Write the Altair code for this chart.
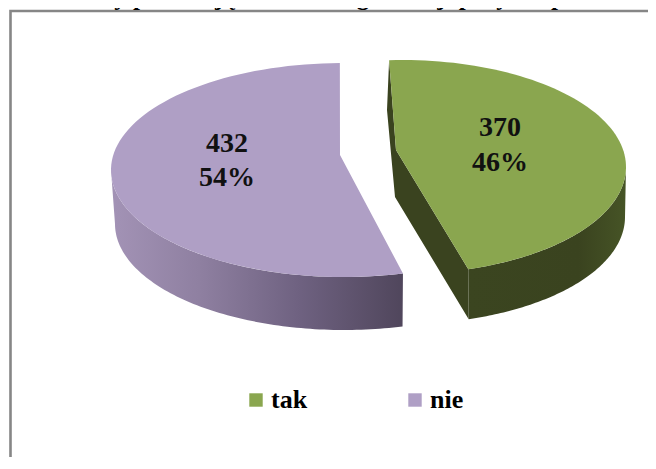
import math
import altair as alt
import pandas as pd

categories = ["tak", "nie"]
values = [370, 432]
percent_labels = ["46%", "54%"]
colors = ["#8AA64F", "#AF9FC5"]
title_text = "1. Podmioty posiadające status organizacji pożytku publicznego"
frame_color = "#868686"
FONT = "Liberation Serif"
W, H = 640, 449

total = sum(values)
span = {c: v / total * 360 for c, v in zip(categories, values)}

# pie geometry (page pixels): exploded slices, tilted ellipses, depth below
geo = {
    "tak": dict(start=-3.3, apex=(396, 150), apex2=(395, 197),
                top=(402, 167, 224, 107), low=(403, 217, 222, 107)),
    "nie": dict(start=359.1 - span["nie"], apex=(340, 155), apex2=None,
                top=(343.5, 170, 232.5, 107), low=(344, 224, 229, 106)),
}


def pt(e, deg):
    a = math.radians(deg)
    return (e[0] + e[2] * math.sin(a), e[1] - e[3] * math.cos(a))


def arc(e, a0, a1, n=90):
    return [pt(e, a0 + (a1 - a0) * i / n) for i in range(n + 1)]


def frame(pts, name):
    return pd.DataFrame(
        [{"x": p[0] - 8, "y": p[1] - 8, "i": i, "s": name} for i, p in enumerate(pts)]
    )


xs = alt.Scale(domain=[0, W], range=[0, W])
ys = alt.Scale(domain=[0, H], range=[0, H])


def poly(pts, name, fill):
    return (
        alt.Chart(frame(pts, name))
        .mark_line(fill=fill, strokeWidth=0, interpolate="linear-closed", clip=False)
        .encode(
            x=alt.X("x:Q", scale=xs, axis=None),
            y=alt.Y("y:Q", scale=ys, axis=None),
            order="i:Q",
        )
    )


def grad(stops):
    return alt.Gradient(
        gradient="linear", x1=0, x2=1, y1=0, y2=0,
        stops=[alt.GradientStop(offset=o, color=c) for o, c in stops],
    )


layers = []

# purple slice
g = geo["nie"]
s0, s1 = g["start"], g["start"] + span["nie"]
wall = arc(g["top"], s0, 270) + arc(g["low"], 270, s0)
layers.append(poly(wall, "nie-wall", grad([(0, "#A393B6"), (0.3, "#8F80A1"), (0.65, "#6E6180"), (1, "#50465C")])))
layers.append(poly([g["apex"]] + arc(g["top"], s0, s1), "nie-top", colors[1]))

# green slice
g = geo["tak"]
s0, s1 = g["start"], g["start"] + span["tak"]
inner = [pt(g["top"], s0), (387, 110), g["apex2"], pt(g["low"], s1), pt(g["top"], s1), g["apex"]]
layers.append(poly(inner, "tak-inner", "#3A431F"))
wall = arc(g["top"], 90, s1) + arc(g["low"], s1, 90)
layers.append(poly(wall, "tak-wall", grad([(0, "#3B4520"), (0.7, "#3A431F"), (1, "#465426")])))
layers.append(poly([g["apex"]] + arc(g["top"], s0, s1), "tak-top", colors[0]))

# frame
fr = pd.DataFrame({"x": [2.5, 2.5, W], "y": [H, 3, 3], "i": [0, 1, 2]})
layers.append(
    alt.Chart(fr).mark_line(color=frame_color, strokeWidth=2.6, strokeJoin="miter").encode(
        x=alt.X("x:Q", scale=xs, axis=None),
        y=alt.Y("y:Q", scale=ys, axis=None),
        order="i:Q",
    )
)

# title (cropped at the top in the reference)
layers.append(
    alt.Chart(pd.DataFrame({"t": [title_text], "x": [-9.0], "y": [-3.0]}))
    .mark_text(font=FONT, fontSize=25, fontWeight="bold", align="left", baseline="alphabetic", color="black", clip=False)
    .encode(x=alt.X("x:Q", scale=xs, axis=None), y=alt.Y("y:Q", scale=ys, axis=None), text="t:N")
)

# data labels
lab = pd.DataFrame({
    "t": [str(values[0]), percent_labels[0], str(values[1]), percent_labels[1]],
    "x": [500 - 8, 500 - 8, 227 - 8, 227 - 8],
    "y": [128 - 8, 163 - 8, 144 - 8, 178 - 8],
})
layers.append(
    alt.Chart(lab)
    .mark_text(font=FONT, fontSize=28, fontWeight="bold", color="#111111", align="center", baseline="middle")
    .encode(x=alt.X("x:Q", scale=xs, axis=None), y=alt.Y("y:Q", scale=ys, axis=None), text="t:N")
)

# legend
leg = pd.DataFrame({"c": categories})
layers.append(
    alt.Chart(leg)
    .mark_square(opacity=0)
    .encode(
        x=alt.value(-50),
        y=alt.value(-50),
        color=alt.Color(
            "c:N",
            scale=alt.Scale(domain=categories, range=colors),
            legend=alt.Legend(
                title=None, orient="none", legendX=235, legendY=379, direction="horizontal",
                symbolType="square", symbolSize=180, symbolStrokeWidth=0, symbolOpacity=1,
                labelFont=FONT, labelFontSize=26, labelFontWeight="bold", labelColor="black",
                columnPadding=94, labelOffset=2,
            ),
        ),
    )
)

chart = (
    alt.layer(*layers)
    .resolve_scale(color="independent")
    .properties(width=W, height=H, padding=0, background="white", autosize=alt.AutoSizeParams(type="none"))
    .configure_view(stroke=None)
)
chart.save("out.html", embed_options={"renderer": "svg", "actions": False})
